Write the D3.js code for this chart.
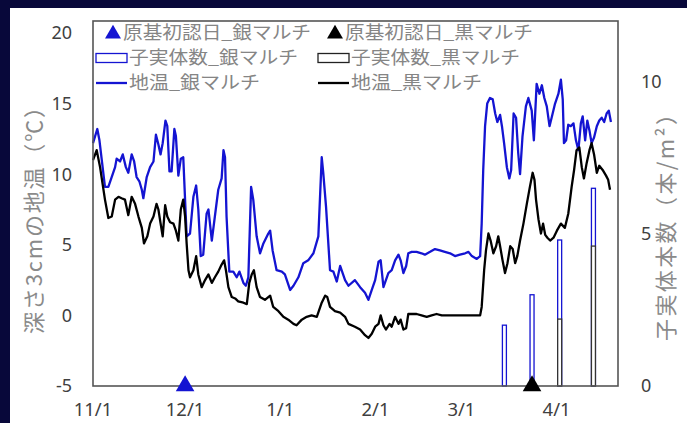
<!DOCTYPE html>
<html><head><meta charset="utf-8">
<script src="https://cdn.jsdelivr.net/npm/d3@7"></script>
<style>body{margin:0;background:#fff}svg{display:block}</style>
</head><body><svg id="c" width="687" height="423"></svg>
<script>
// ---- data (x = days since 11/1) ----
const xTickDays = [0, 30, 61, 92, 120, 151];
const xTickLabels = ["11/1", "12/1", "1/1", "2/1", "3/1", "4/1"];
const leftTicks = [-5, 0, 5, 10, 15, 20];
const rightTicks = [0, 5, 10];

const silverTemp = [[0,12.2],[1.4,13.2],[2.1,12.4],[3.9,9.1],[5.0,9.1],[7.2,10.5],[7.7,11.1],[8.8,10.9],[9.7,11.4],[10.7,10.5],[11.5,10.1],[12.6,11.4],[13.4,10.9],[14.2,9.8],[15.1,9.5],[15.9,8.9],[16.4,8.3],[17.5,9.8],[18.6,10.5],[19.7,10.9],[20.5,12.8],[21.3,12.1],[22.0,11.4],[22.7,12.2],[23.6,13.8],[24.2,13.4],[24.9,10.2],[25.6,10.2],[26.5,13.2],[27.0,12.7],[27.8,9.9],[28.6,11.1],[29.4,11.2],[30.5,5.6],[31.6,5.8],[32.7,8.4],[33.6,9.2],[34.3,7.5],[35.1,4.2],[35.9,4.3],[37.0,7.2],[37.6,7.5],[38.7,5.3],[39.4,6.5],[40.8,8.9],[41.9,9.7],[42.5,11.7],[43.0,11.2],[43.5,7.0],[44.4,3.1],[45.7,3.1],[46.8,2.7],[47.7,3.1],[49.0,2.3],[49.8,2.1],[50.6,2.7],[51.5,9.1],[52.2,8.2],[53.3,5.6],[54.4,4.4],[55.5,5.1],[57.1,5.8],[57.7,6.0],[58.5,4.6],[59.8,3.2],[61.5,3.1],[62.5,2.9],[64.2,1.8],[65.3,2.1],[66.9,2.7],[68.5,3.7],[70.1,3.9],[71.8,4.4],[73.4,5.6],[74.5,11.2],[75.0,10.1],[75.9,7.7],[77.2,3.2],[78.3,3.1],[79.4,2.4],[80.5,3.5],[82.1,2.5],[83.2,2.1],[85.3,2.5],[87.0,2.0],[88.6,1.6],[89.7,1.1],[90.8,1.8],[91.9,2.5],[93.0,3.8],[93.7,3.9],[94.6,2.0],[95.4,2.5],[96.2,3.0],[97.3,3.2],[98.4,3.9],[99.5,4.3],[100.2,3.9],[101.1,3.0],[102.0,3.5],[102.7,4.4],[103.8,4.5],[105.4,4.5],[107.0,4.4],[108.1,4.3],[109.8,4.5],[111.4,4.7],[113.0,4.6],[114.6,4.5],[116.3,4.4],[117.9,4.2],[119.5,4.3],[121.2,4.4],[122.3,4.5],[123.4,4.2],[125.0,4.0],[126.1,4.2],[126.6,6.5],[127.1,10.3],[127.7,13.4],[128.4,15.0],[129.3,15.4],[130.2,15.3],[131.0,14.3],[131.7,13.7],[132.6,14.2],[133.2,13.4],[133.9,12.2],[134.8,10.5],[135.6,9.7],[136.2,10.3],[137.0,14.3],[137.8,14.0],[138.5,11.5],[139.1,10.0],[139.9,12.7],[141.0,14.8],[141.8,15.4],[142.9,14.5],[143.6,12.4],[144.5,16.4],[145.4,15.7],[146.2,16.3],[147.0,15.4],[147.8,14.8],[148.7,13.4],[149.5,14.1],[150.5,15.0],[151.6,15.7],[152.4,16.7],[153.0,15.3],[153.4,12.2],[154.1,12.4],[154.8,13.5],[155.6,13.4],[156.5,13.6],[157.3,12.4],[158.1,11.7],[158.9,13.6],[159.5,14.1],[160.3,12.4],[161.0,13.8],[161.7,13.1],[162.4,12.2],[163.2,12.6],[164.1,13.4],[164.9,13.8],[165.7,14.0],[166.5,13.7],[167.3,14.3],[168.0,14.5],[168.7,13.7]];

const blackTemp = [[0,11.0],[1.2,11.7],[2.3,10.5],[3.9,8.2],[5.0,6.9],[6.1,7.0],[7.2,8.2],[8.3,8.4],[9.3,8.3],[10.4,8.2],[11.5,7.1],[12.6,8.4],[13.7,7.9],[14.8,7.0],[15.9,6.2],[16.6,5.1],[17.7,5.6],[18.6,6.5],[19.7,7.0],[20.7,7.9],[21.3,7.5],[21.8,6.8],[22.7,5.6],[23.5,7.8],[24.2,7.0],[25.1,6.6],[26.2,6.5],[27.0,6.0],[27.8,5.3],[28.6,7.5],[29.4,8.2],[30.0,7.0],[30.5,5.1],[31.1,3.2],[31.6,2.7],[32.7,3.2],[33.6,4.2],[34.3,2.9],[35.4,2.0],[36.5,2.5],[37.6,2.9],[38.7,2.3],[39.7,2.7],[40.8,3.1],[41.9,3.6],[42.7,3.9],[43.3,3.2],[44.1,2.0],[45.2,1.3],[46.3,1.2],[47.3,1.0],[49.0,0.9],[50.1,0.8],[50.9,2.3],[51.7,2.9],[52.4,3.2],[53.3,2.0],[54.4,1.3],[56.0,1.1],[57.7,1.4],[58.7,0.6],[60.4,0.3],[62.0,-0.1],[63.6,-0.3],[65.3,-0.6],[66.3,-0.7],[68.0,-0.3],[69.6,-0.1],[71.2,0.0],[72.9,-0.1],[74.5,0.9],[75.6,1.4],[76.3,1.3],[77.2,0.6],[78.8,0.3],[80.5,0.2],[82.1,-0.1],[83.2,-0.6],[85.3,-0.8],[87.0,-1.0],[88.6,-1.4],[89.7,-1.6],[90.8,-1.3],[91.9,-0.8],[93.0,-0.6],[93.7,0.0],[94.6,-0.7],[95.4,-1.0],[96.6,-0.6],[97.3,-0.8],[98.4,-0.1],[99.5,-0.6],[100.2,-0.3],[101.1,-1.0],[102.0,-0.9],[102.7,0.1],[103.8,0.1],[105.4,0.1],[107.0,0.0],[108.7,-0.1],[110.3,0.0],[111.9,0.1],[113.6,0.0],[115.2,0.0],[117.4,0.0],[119.5,0.0],[121.7,0.0],[123.9,0.0],[126.1,0.0],[126.6,0.6],[127.4,3.2],[128.0,4.6],[128.8,5.8],[129.5,5.3],[130.4,4.4],[131.3,4.9],[132.0,5.6],[132.6,4.9],[133.4,3.9],[134.2,3.0],[135.0,3.7],[135.9,4.9],[136.7,4.7],[137.5,3.7],[138.2,4.2],[139.1,5.3],[140.2,6.5],[141.3,7.9],[142.3,9.1],[143.2,10.1],[143.8,9.6],[144.3,8.2],[145.1,6.8],[145.9,5.8],[146.6,6.5],[147.3,5.7],[148.0,5.5],[148.9,5.3],[150.0,5.5],[151.1,6.0],[152.4,6.5],[153.7,6.2],[154.8,7.2],[155.9,9.1],[156.7,10.3],[157.5,11.7],[158.4,11.9],[159.2,10.5],[159.9,9.7],[160.8,10.8],[161.7,11.7],[162.4,12.2],[163.2,11.4],[164.1,10.1],[164.9,10.6],[166.0,10.3],[167.1,9.9],[167.8,9.6],[168.4,8.9]];

const fruitDays = [134, 143, 152, 163];
const silverFruit = [2.0, 3.0, 4.8, 6.5];
const blackFruit = [0, 0, 2.2, 4.6];
const silverPrimordiumDays = [30];
const blackPrimordiumDays = [143];

const legendTriangleLabels = ["原基初認日_銀マルチ", "原基初認日_黒マルチ"];
const legendBarLabels = ["子実体数_銀マルチ", "子実体数_黒マルチ"];
const legendLineLabels = ["地温_銀マルチ", "地温_黒マルチ"];
const leftTitle = "深さ3cmの地温（℃）";
const rightTitle = "子実体本数（本/m²）";

// ---- layout ----
const BLUE = "#1414d2", BLACK = "#000000";
const P = {l: 93, r: 618, t: 21, b: 386};
const svg = d3.select("#c");
const x = d3.scaleLinear().domain([0, 171]).range([P.l, P.r]);
const yL = d3.scaleLinear().domain([-5, 20]).range([P.b, 33]);
const yR = d3.scaleLinear().domain([0, 12]).range([P.b, P.t]);

svg.append("rect").attr("width", 687).attr("height", 423).attr("fill", "#08083a");
svg.append("rect").attr("x", 10).attr("y", 8).attr("width", 677).attr("height", 415).attr("fill", "#ffffff");

const numFont = "'Noto Sans', sans-serif";
const jpFont = "'Noto Sans CJK JP', sans-serif";

// tick labels
svg.append("g").selectAll("text").data(leftTicks).join("text")
  .attr("x", 72).attr("y", d => yL(d)).attr("dy", "0.35em")
  .attr("text-anchor", "end").attr("font-family", numFont).attr("font-size", 18)
  .attr("fill", "#404040").text(d => d);
svg.append("g").selectAll("text").data(rightTicks).join("text")
  .attr("x", 641).attr("y", d => yR(d)).attr("dy", "0.35em")
  .attr("font-family", numFont).attr("font-size", 18)
  .attr("fill", "#404040").text(d => d);
svg.append("g").selectAll("text").data(xTickDays).join("text")
  .attr("x", d => x(d)).attr("y", 410).attr("dy", "0.35em")
  .attr("text-anchor", "middle").attr("font-family", numFont).attr("font-size", 18.5)
  .attr("fill", "#404040").text((d, i) => xTickLabels[i]);

// axis titles
svg.append("text").attr("transform", "translate(34,215) rotate(-90)")
  .attr("text-anchor", "middle").attr("dy", "0.35em")
  .attr("font-family", jpFont).attr("font-size", 22).attr("fill", "#8a8a8a")
  .attr("textLength", 238).attr("lengthAdjust", "spacing").text(leftTitle);
svg.append("text").attr("transform", "translate(666,222) rotate(-90)")
  .attr("text-anchor", "middle").attr("dy", "0.35em")
  .attr("font-family", jpFont).attr("font-size", 22).attr("fill", "#8a8a8a")
  .attr("textLength", 238).attr("lengthAdjust", "spacing").text(rightTitle);

// bars
const bw = 4;
function bars(vals, color) {
  svg.append("g").selectAll("rect").data(fruitDays.map((d, i) => [d, vals[i]]).filter(d => d[1] > 0)).join("rect")
    .attr("x", d => x(d[0]) - bw / 2).attr("y", d => yR(d[1]))
    .attr("width", bw).attr("height", d => yR(0) - yR(d[1]))
    .attr("fill", "#fff").attr("stroke", color).attr("stroke-width", 1.3);
}
bars(silverFruit, BLUE);
bars(blackFruit, "#333");

// lines
const line = d3.line().x(d => x(d[0])).y(d => yL(d[1]));
svg.append("path").datum(silverTemp).attr("d", line).attr("fill", "none")
  .attr("stroke", BLUE).attr("stroke-width", 2.3).attr("stroke-linejoin", "round");
svg.append("path").datum(blackTemp).attr("d", line).attr("fill", "none")
  .attr("stroke", BLACK).attr("stroke-width", 2.3).attr("stroke-linejoin", "round");

// frame
svg.append("rect").attr("x", P.l).attr("y", P.t).attr("width", P.r - P.l).attr("height", P.b - P.t)
  .attr("fill", "none").attr("stroke", "#555").attr("stroke-width", 1.6);

// triangles
const tri = d3.symbol().type(d3.symbolTriangle).size(150);
svg.append("g").selectAll("path").data(silverPrimordiumDays).join("path")
  .attr("transform", d => `translate(${x(d)},${yR(0)})`).attr("d", tri).attr("fill", BLUE);
svg.append("g").selectAll("path").data(blackPrimordiumDays).join("path")
  .attr("transform", d => `translate(${x(d)},${yR(0)})`).attr("d", tri).attr("fill", BLACK);

// legend
const lg = svg.append("g");
const colX = [96, 318];
const colors = [BLUE, BLACK];
const rowY = [33, 58, 83];
const lt = (xx, yy, s, len) => lg.append("text").attr("x", xx).attr("y", yy).attr("dy", "0.35em")
  .attr("font-family", jpFont).attr("font-size", 18).attr("fill", "#858585")
  .attr("textLength", len).attr("lengthAdjust", "spacingAndGlyphs").text(s);
[0, 1].forEach(i => {
  lg.append("path").attr("transform", `translate(${colX[i] + 17},${rowY[0] + 1})`).attr("d", d3.symbol().type(d3.symbolTriangle).size(110)).attr("fill", colors[i]);
  lt(colX[i] + 27, rowY[0], legendTriangleLabels[i], 188);
  lg.append("rect").attr("x", colX[i]).attr("y", rowY[1] - 4.5).attr("width", 31).attr("height", 9)
    .attr("fill", "#fff").attr("stroke", i ? "#222" : BLUE).attr("stroke-width", 1.3);
  lt(colX[i] + 33, rowY[1], legendBarLabels[i], 169);
  lg.append("line").attr("x1", colX[i]).attr("x2", colX[i] + 31).attr("y1", rowY[2]).attr("y2", rowY[2])
    .attr("stroke", colors[i]).attr("stroke-width", 2.3);
  lt(colX[i] + 33, rowY[2], legendLineLabels[i], 131);
});
</script></body></html>
